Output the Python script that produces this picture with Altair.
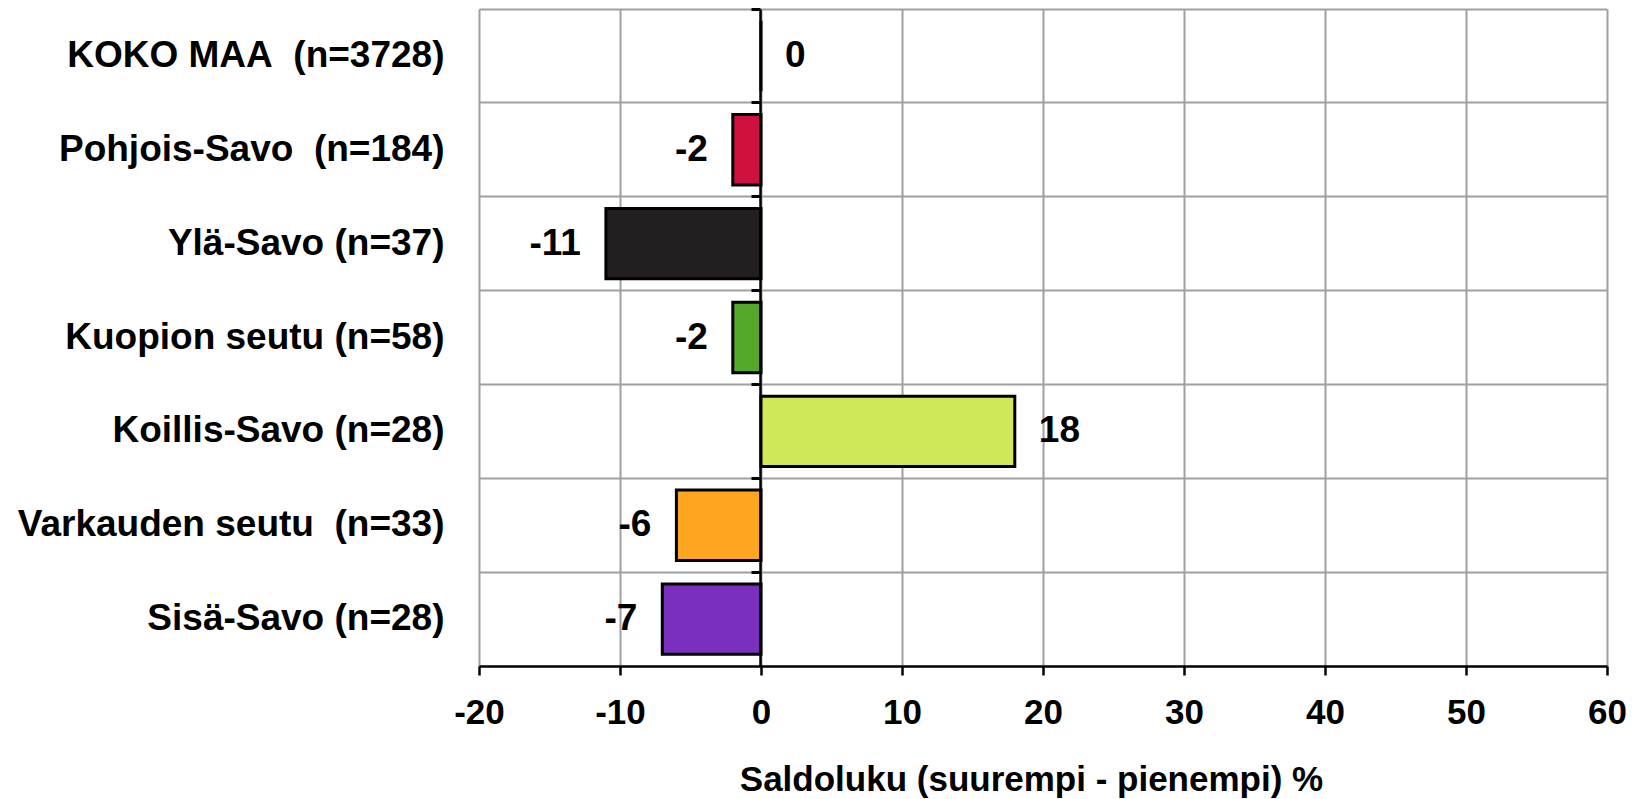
import altair as alt
import pandas as pd

categories = [
    "KOKO MAA\u00a0\u00a0(n=3728)",
    "Pohjois-Savo\u00a0\u00a0(n=184)",
    "Ylä-Savo (n=37)",
    "Kuopion seutu (n=58)",
    "Koillis-Savo (n=28)",
    "Varkauden seutu\u00a0\u00a0(n=33)",
    "Sisä-Savo (n=28)",
]
values = [0, -2, -11, -2, 18, -6, -7]
colors = ["#FFFFFF", "#D0103F", "#231F20", "#55A82A", "#CEE85A", "#FFA520", "#7B2FBF"]
x_ticks = [-20, -10, 0, 10, 20, 30, 40, 50, 60]

df = pd.DataFrame({
    "cat": categories,
    "value": values,
    "color": colors,
    "label": [str(v) for v in values],
})

FONT = "Liberation Sans"
GRID = "#A0A0A0"

y_main = alt.Y(
    "cat:N",
    sort=categories,
    scale=alt.Scale(paddingInner=0, paddingOuter=0),
    axis=alt.Axis(
        title=None, grid=True, gridColor=GRID, gridWidth=2, bandPosition=0,
        domain=False, ticks=False, tickSize=0, labelPadding=35, labelLimit=600,
        labelFont=FONT, labelFontSize=37, labelFontWeight="bold", labelColor="black",
    ),
)

x_enc = alt.X(
    "value:Q",
    scale=alt.Scale(domain=[-20, 60], nice=False, zero=False),
    axis=alt.Axis(
        title="Saldoluku (suurempi - pienempi) %", values=x_ticks,
        labelExpr="toString(datum.value)", labelFlush=False, labelOverlap=False,
        grid=True, gridColor=GRID, gridWidth=2,
        domain=True, domainColor="black", domainWidth=2.5,
        ticks=True, tickColor="black", tickWidth=2.5, tickSize=9,
        labelPadding=20, labelFont=FONT, labelFontSize=35, labelFontWeight="bold",
        labelColor="black", titleFont=FONT, titleFontSize=35, titleFontWeight="bold",
        titleColor="black", titlePadding=32, titleX=552, titleAlign="center",
    ),
)

bars = alt.Chart(df).mark_bar(
    stroke="black", strokeWidth=3, height=alt.RelativeBandSize(0.75)
).encode(
    y=y_main,
    x=x_enc,
    x2=alt.datum(0),
    color=alt.Color("color:N", scale=None),
)

y_zero = alt.Y(
    "cat:N",
    sort=categories,
    axis=alt.Axis(
        title=None, orient="left", offset=-281, grid=False, labels=False,
        domain=True, domainColor="black", domainWidth=2.5,
        ticks=True, tickColor="black", tickWidth=3, tickSize=9, bandPosition=0,
        zindex=2,
    ),
)

text_pos = alt.Chart(df).transform_filter("datum.value >= 0").mark_text(
    align="left", baseline="middle", dx=24, font=FONT, fontSize=37,
    fontWeight="bold", color="black",
).encode(y=y_zero, x=alt.X("value:Q"), text="label:N")

text_neg = alt.Chart(df).transform_filter("datum.value < 0").mark_text(
    align="right", baseline="middle", dx=-25, font=FONT, fontSize=37,
    fontWeight="bold", color="black",
).encode(y=alt.Y("cat:N", sort=categories, axis=None), x=alt.X("value:Q"), text="label:N")

chart = alt.layer(bars, text_pos, text_neg).resolve_axis(y="independent").properties(
    width=1128,
    height=657,
    autosize=alt.AutoSizeParams(type="none"),
    padding={"left": 471, "top": 1, "right": 20, "bottom": 132},
).configure_view(stroke=None).configure(background="white")

chart.save("out.html", embed_options={"renderer": "svg", "actions": False})
